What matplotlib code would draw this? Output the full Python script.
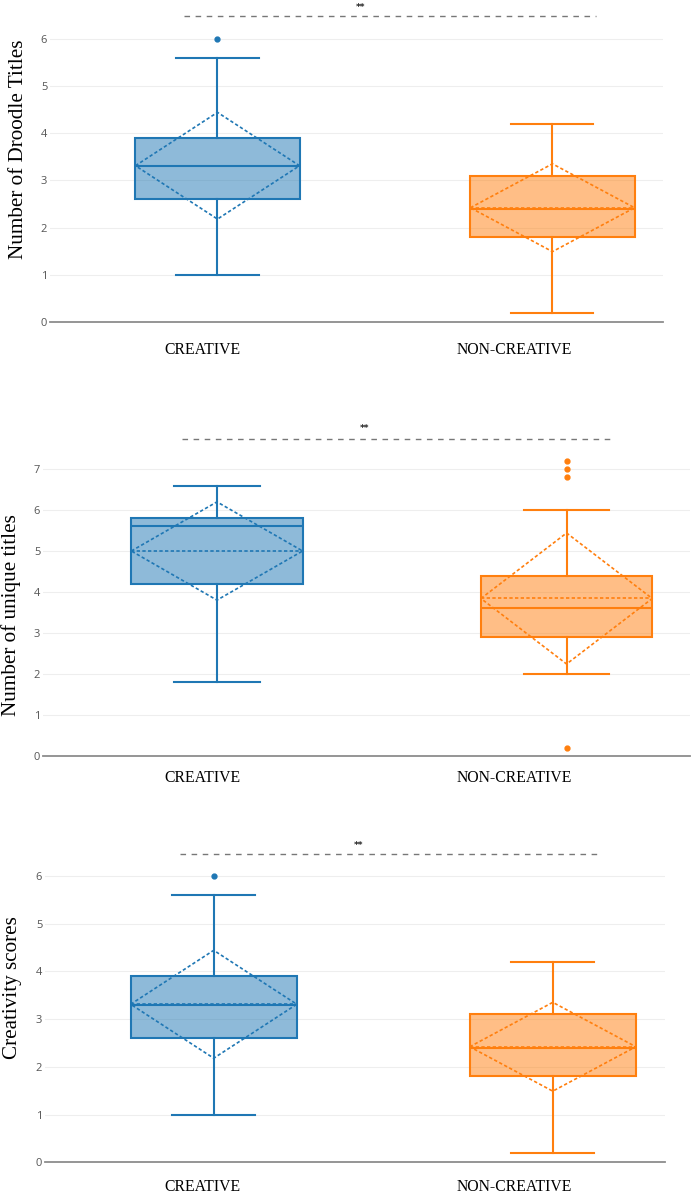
import matplotlib
matplotlib.use('Agg')
import matplotlib.pyplot as plt

groups = ['CREATIVE', 'NON-CREATIVE']
box_colors = ['#1f77b4', '#ff7f0e']

# panel 1: number of droodle titles
droodle_q1 = [2.6, 1.8]
droodle_med = [3.3, 2.4]
droodle_q3 = [3.9, 3.1]
droodle_lo = [1.0, 0.2]
droodle_hi = [5.6, 4.2]
droodle_mean = [3.31, 2.42]
droodle_sd = [1.13, 0.93]
droodle_out = [[6.0], []]

# panel 2: number of unique titles
unique_q1 = [4.2, 2.9]
unique_med = [5.6, 3.6]
unique_q3 = [5.8, 4.4]
unique_lo = [1.8, 2.0]
unique_hi = [6.6, 6.0]
unique_mean = [5.0, 3.84]
unique_sd = [1.2, 1.6]
unique_out = [[], [7.2, 7.0, 6.8, 0.2]]

# panel 3: creativity scores
creat_q1 = [2.6, 1.8]
creat_med = [3.3, 2.4]
creat_q3 = [3.9, 3.1]
creat_lo = [1.0, 0.2]
creat_hi = [5.6, 4.2]
creat_mean = [3.31, 2.42]
creat_sd = [1.13, 0.93]
creat_out = [[6.0], []]

W, H = 692, 1196
fig = plt.figure(figsize=(W / 100, H / 100), dpi=100)


def add_ax(left, right, top, bottom):
    return fig.add_axes([left / W, 1 - bottom / H, (right - left) / W, (bottom - top) / H])


def draw_panel(ax, q1, med, q3, lo, hi, mean, sd, out, xlim, ylim, nticks, sig_y, star_x, star_y):
    width = 0.49
    stats = []
    for i in range(len(groups)):
        stats.append(dict(q1=q1[i], med=med[i], q3=q3[i], whislo=lo[i], whishi=hi[i],
                          fliers=out[i], label=groups[i]))
    bp = ax.bxp(stats, positions=range(len(groups)), widths=width, patch_artist=True,
                showfliers=True, manage_ticks=False)
    for i, c in enumerate(box_colors):
        bp['boxes'][i].set_facecolor(matplotlib.colors.to_rgba(c, 0.5))
        bp['boxes'][i].set_edgecolor(c)
        bp['boxes'][i].set_linewidth(1.5)
        bp['medians'][i].set_color(c)
        bp['medians'][i].set_linewidth(1.5)
        for k in (2 * i, 2 * i + 1):
            bp['whiskers'][k].set_color(c)
            bp['whiskers'][k].set_linewidth(1.5)
            bp['caps'][k].set_color(c)
            bp['caps'][k].set_linewidth(1.5)
        bp['fliers'][i].set_marker('o')
        bp['fliers'][i].set_markerfacecolor(c)
        bp['fliers'][i].set_markeredgecolor(c)
        bp['fliers'][i].set_markersize(3.5)
        # mean line and sd diamond
        x0, x1 = i - width / 2, i + width / 2
        ax.plot([x0, x1], [mean[i], mean[i]], color=c, lw=1.2, ls=(0, (2, 1.4)), zorder=4)
        ax.plot([x0, i, x1, i, x0], [mean[i], mean[i] + sd[i], mean[i], mean[i] - sd[i], mean[i]],
                color=c, lw=1.2, ls=(0, (2, 1.4)), zorder=4)

    ax.set_xlim(*xlim)
    ax.set_ylim(*ylim)
    ax.set_yticks(range(nticks + 1))
    ax.set_xticks([])
    ax.grid(axis='y', color='#eeeeee', lw=0.8)
    ax.set_axisbelow(True)
    for s in ('top', 'right', 'left'):
        ax.spines[s].set_visible(False)
    ax.spines['bottom'].set_color('#8c8c8c')
    ax.spines['bottom'].set_linewidth(1.3)
    ax.tick_params(axis='y', length=0, pad=2, labelsize=8, labelcolor='#555555')
    for t in ax.get_yticklabels():
        t.set_fontfamily('Open Sans')

    ax.plot([-0.1, 1.13], [sig_y, sig_y], color='#777777', lw=1, ls=(0, (4, 4)))
    ax.text(star_x, star_y, '**', ha='center', va='center', fontsize=6.5, fontweight='bold', color='#222222')


ax1 = add_ax(50, 663, 0, 322)
draw_panel(ax1, droodle_q1, droodle_med, droodle_q3, droodle_lo, droodle_hi, droodle_mean,
           droodle_sd, droodle_out, (-0.5, 1.33), (0, 6.82), 6, 6.48, 0.428, 6.66)

ax2 = add_ax(43, 690, 420, 755.7)
draw_panel(ax2, unique_q1, unique_med, unique_q3, unique_lo, unique_hi, unique_mean,
           unique_sd, unique_out, (-0.4976, 1.353), (0, 8.2), 7, 7.73, 0.423, 7.99)

ax3 = add_ax(45, 665, 830, 1162.3)
draw_panel(ax3, creat_q1, creat_med, creat_q3, creat_lo, creat_hi, creat_mean,
           creat_sd, creat_out, (-0.4976, 1.331), (0, 6.96), 6, 6.45, 0.426, 6.64)

serif = 'Liberation Serif'
ylabels = [('Number of Droodle Titles', 19, 149), ('Number of unique titles', 11, 615),
           ('Creativity scores', 13, 988)]
for txt, x, y in ylabels:
    fig.text(x / W, 1 - y / H, txt, rotation=90, ha='center', va='center',
             fontsize=15.2, family=serif)

for y in (350, 778, 1187):
    for x, g in zip((202, 514), groups):
        fig.text(x / W, 1 - y / H, g, ha='center', va='center', fontsize=11.3, family=serif)

fig.savefig('out.png', dpi=100)
